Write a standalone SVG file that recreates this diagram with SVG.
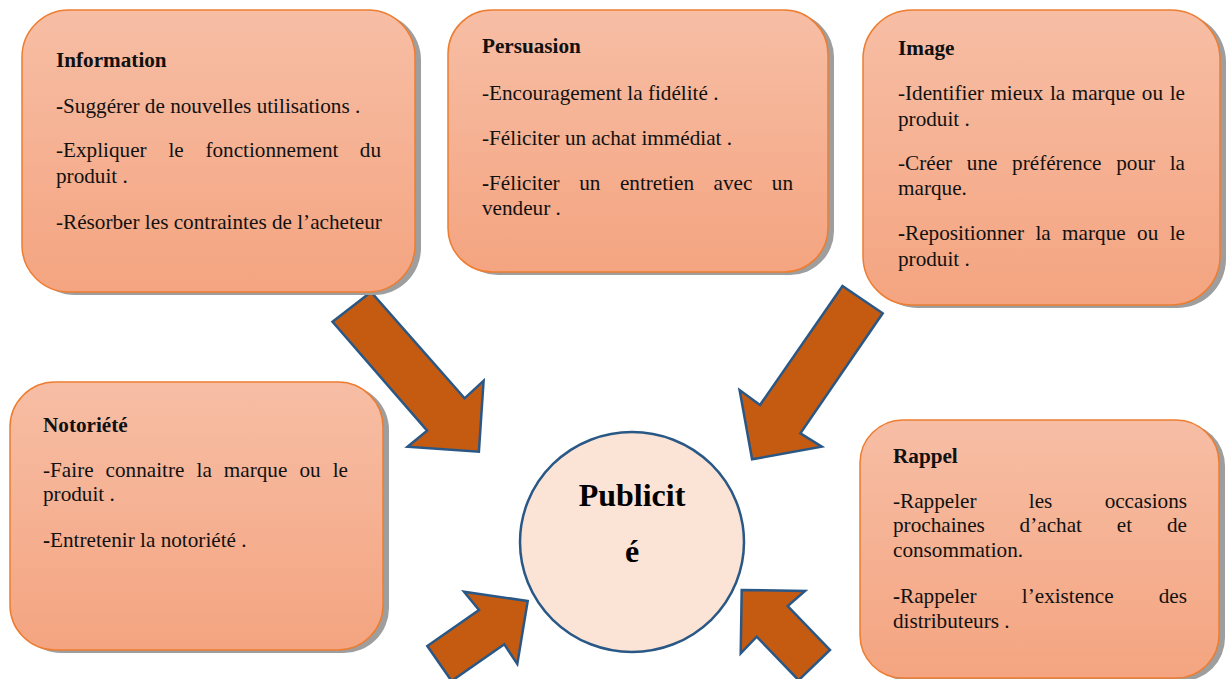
<svg xmlns="http://www.w3.org/2000/svg" width="1230" height="679" viewBox="0 0 1230 679">
  <defs>
    <linearGradient id="boxFill" x1="0" y1="0" x2="0" y2="1">
      <stop offset="0" stop-color="#F7BEA5"/>
      <stop offset="1" stop-color="#F4A480"/>
    </linearGradient>
  </defs>
  <style>
    .shadow { fill: #9E9E9E; }
    .box { fill: url(#boxFill); stroke: #ED7D31; stroke-width: 1.5; }
    .arrow { fill: #C55A11; stroke: #2A5886; stroke-width: 2.5; stroke-linejoin: miter; }
    .hub { fill: #FBE4D6; stroke: #2A5886; stroke-width: 2.5; }
    text { font-family: "Liberation Serif", "Times New Roman", serif; font-size: 21.2px; fill: #111; }
    .title { font-weight: bold; }
    .b { font-weight: bold; }
    .hubtxt { font-size: 32px; font-weight: bold; text-anchor: middle; fill: #000; }
  </style>

  <!-- block arrows pointing at the central hub -->
  <g id="connectors">
    <polygon class="arrow" points="332.5,321.7 371,292 464.6,398.3 483.6,380.7 478.9,451.7 407.5,446.7 427.1,430.7"/>
    <polygon class="arrow" points="842.5,286 882.7,313.3 800.4,433.3 821.8,446.7 752.1,459.3 739.6,390 760,405"/>
    <polygon class="arrow" points="527.7,601 464,591.7 479,610 427.3,646 451.6,681 504.3,644.3 517.3,664"/>
    <polygon class="arrow" points="741.7,590 805,591 787.7,606 830,650 798.6,680.2 756.7,636.7 740.7,653.3"/>
  </g>

  <!-- Information -->
  <g id="node-information">
    <rect class="shadow" x="28" y="13" width="393" height="282" rx="47"/>
    <rect class="box" x="22" y="10" width="393" height="282" rx="47"/>
    <text class="title" x="56" y="67">Information</text>
    <text x="56" y="113"><tspan class="b">-</tspan>Suggérer de nouvelles utilisations .</text>
    <text y="157"><tspan x="56">-Expliquer</tspan><tspan x="168.4">le</tspan><tspan x="205.4">fonctionnement</tspan><tspan x="381" text-anchor="end">du</tspan></text>
    <text x="56" y="183">produit .</text>
    <text x="56" y="229">-Résorber les contraintes de l’acheteur</text>
  </g>

  <!-- Persuasion -->
  <g id="node-persuasion">
    <rect class="shadow" x="454" y="13" width="380" height="262" rx="44"/>
    <rect class="box" x="448" y="10" width="380" height="262" rx="44"/>
    <text class="title" x="482" y="53">Persuasion</text>
    <text x="482" y="100">-Encouragement la fidélité .</text>
    <text x="482" y="145">-Féliciter un achat immédiat .</text>
    <text y="190"><tspan x="482" class="b">-</tspan><tspan>Féliciter</tspan><tspan x="579.2">un</tspan><tspan x="619.9">entretien</tspan><tspan x="713.6">avec</tspan><tspan x="793" text-anchor="end">un</tspan></text>
    <text x="482" y="215">vendeur .</text>
  </g>

  <!-- Image -->
  <g id="node-image">
    <rect class="shadow" x="869" y="13" width="357" height="295" rx="49"/>
    <rect class="box" x="863" y="10" width="357" height="295" rx="49"/>
    <text class="title" x="898" y="55">Image</text>
    <text y="100"><tspan x="898">-Identifier</tspan><tspan x="990.4">mieux</tspan><tspan x="1049.9">la</tspan><tspan x="1071.7">marque</tspan><tspan x="1141.8">ou</tspan><tspan x="1185" text-anchor="end">le</tspan></text>
    <text x="898" y="126">produit .</text>
    <text y="170"><tspan x="898">-Créer</tspan><tspan x="966.8">une</tspan><tspan x="1012.1">préférence</tspan><tspan x="1116.2">pour</tspan><tspan x="1185" text-anchor="end">la</tspan></text>
    <text x="898" y="195">marque.</text>
    <text y="240"><tspan x="898" class="b">-</tspan><tspan>Repositionner</tspan><tspan x="1035.4">la</tspan><tspan x="1062.1">marque</tspan><tspan x="1137.1">ou</tspan><tspan x="1185" text-anchor="end">le</tspan></text>
    <text x="898" y="266">produit  .</text>
  </g>

  <!-- Notoriété -->
  <g id="node-notoriete">
    <rect class="shadow" x="16" y="385" width="373" height="268" rx="45"/>
    <rect class="box" x="10" y="382" width="373" height="268" rx="45"/>
    <text class="title" x="43" y="432">Notoriété</text>
    <text y="477"><tspan x="43">-Faire</tspan><tspan x="105.6">connaitre</tspan><tspan x="196.5">la</tspan><tspan x="223.8">marque</tspan><tspan x="299.4">ou</tspan><tspan x="348" text-anchor="end">le</tspan></text>
    <text x="43" y="501">produit .</text>
    <text x="43" y="547"><tspan class="b">-</tspan>Entretenir la notoriété .</text>
  </g>

  <!-- Rappel -->
  <g id="node-rappel">
    <rect class="shadow" x="866" y="423" width="359" height="258" rx="43"/>
    <rect class="box" x="860" y="420" width="359" height="258" rx="43"/>
    <text class="title" x="893" y="463">Rappel</text>
    <text y="508"><tspan x="893">-Rappeler</tspan><tspan x="1028.8">les</tspan><tspan x="1187" text-anchor="end">occasions</tspan></text>
    <text y="532"><tspan x="893">prochaines</tspan><tspan x="1019.6">d’achat</tspan><tspan x="1116.8">et</tspan><tspan x="1187" text-anchor="end">de</tspan></text>
    <text x="893" y="557">consommation.</text>
    <text y="603"><tspan x="893" class="b">-</tspan><tspan>Rappeler</tspan><tspan x="1021.8">l’existence</tspan><tspan x="1187" text-anchor="end">des</tspan></text>
    <text x="893" y="628">distributeurs .</text>
  </g>

  <!-- central hub -->
  <g id="node-publicite">
    <ellipse class="hub" cx="632" cy="542" rx="112" ry="110"/>
    <text class="hubtxt" x="632" y="506">Publicit</text>
    <text class="hubtxt" x="632" y="562">é</text>
  </g>
</svg>
